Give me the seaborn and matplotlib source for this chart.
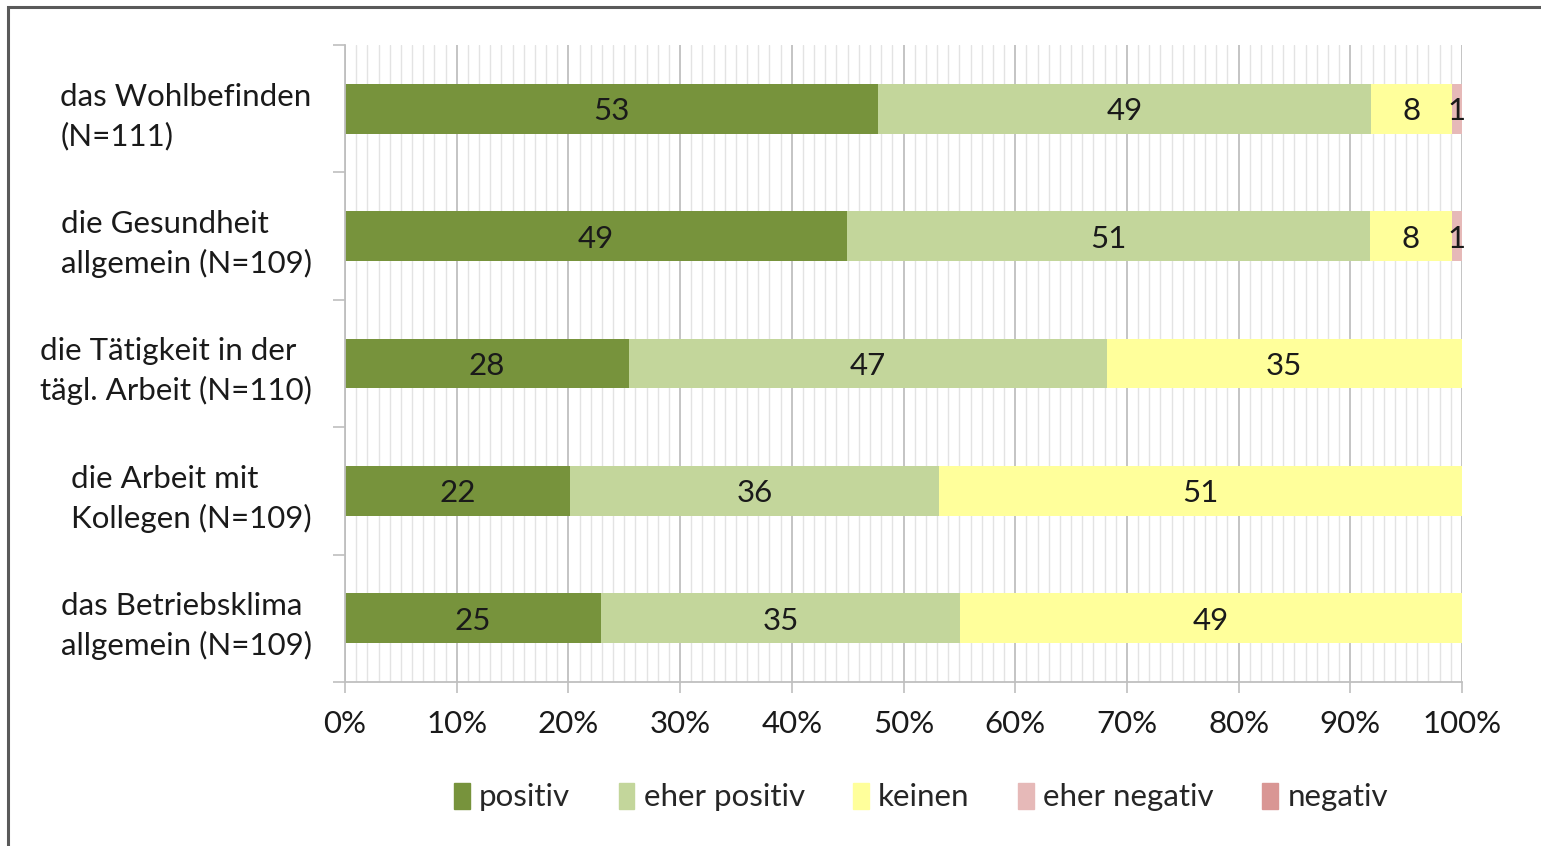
import matplotlib

matplotlib.use("Agg")
import matplotlib.pyplot as plt
import numpy as np
import pandas as pd
import seaborn as sns
from matplotlib.patches import Rectangle
from matplotlib.ticker import MultipleLocator, FuncFormatter

sns.set_theme(style="white")
plt.rcParams["font.family"] = ["Lato", "DejaVu Sans"]

# data (counts per answer category)
categories = [
    "das Wohlbefinden\n(N=111)",
    "die Gesundheit\nallgemein (N=109)",
    "die Tätigkeit in der\ntägl. Arbeit (N=110)",
    "die Arbeit mit\nKollegen (N=109)",
    "das Betriebsklima\nallgemein (N=109)",
]
series = ["positiv", "eher positiv", "keinen", "eher negativ", "negativ"]
positiv = [53, 49, 28, 22, 25]
eher_positiv = [49, 51, 47, 36, 35]
keinen = [8, 8, 35, 51, 49]
eher_negativ = [1, 1, 0, 0, 0]
negativ = [0, 0, 0, 0, 0]
colors = ["#77933C", "#C3D69B", "#FFFF9B", "#E6B9B8", "#D99694"]

counts = np.array([positiv, eher_positiv, keinen, eher_negativ, negativ], float)
pct = counts / counts.sum(axis=0) * 100
cum = np.cumsum(pct, axis=0)

FS = 22.5

fig = plt.figure(figsize=(15.41, 8.46), dpi=100)
ax = fig.add_axes([345 / 1541, 1 - 682 / 846, (1462 - 345) / 1541, (682 - 45) / 846])

# stacked bars: draw cumulative totals from the last series down
for i in reversed(range(len(series))):
    df = pd.DataFrame({"cat": categories, "val": cum[i]})
    sns.barplot(data=df, x="val", y="cat", color=colors[i], saturation=1,
                width=0.39, orient="h", ax=ax, linewidth=0, zorder=2)

# value labels
for i in range(len(series)):
    for j in range(len(categories)):
        if counts[i, j] > 0:
            ax.text(cum[i, j] - pct[i, j] / 2, j + 0.02, f"{int(counts[i, j])}",
                    ha="center", va="center", fontsize=FS, color="#1a1a1a", zorder=3)

ax.set_xlim(0, 100)
ax.set_ylim(4.5, -0.5)
ax.xaxis.set_major_locator(MultipleLocator(10))
ax.xaxis.set_minor_locator(MultipleLocator(1))
ax.xaxis.set_major_formatter(FuncFormatter(lambda v, _: f"{v:.0f}%"))
ax.grid(axis="x", which="major", color="#BFBFBF", lw=1.3, zorder=0)
ax.grid(axis="x", which="minor", color="#E3E3E3", lw=1.0, zorder=0)
ax.set_axisbelow(True)

ax.set_yticks(range(len(categories)))
ax.set_yticklabels(categories, ma="left", linespacing=1.45)
ax.set_yticks(np.arange(-0.5, 5, 1), minor=True)
ax.tick_params(axis="y", which="major", length=0, pad=24, labelsize=FS, labelcolor="#1a1a1a")
ax.tick_params(axis="y", which="minor", left=True, length=9, width=1.2, color="#BFBFBF")
ax.tick_params(axis="x", which="major", bottom=True, length=8, width=1.2, color="#BFBFBF",
               pad=12, labelsize=FS, labelcolor="#1a1a1a")
ax.tick_params(axis="x", which="minor", bottom=False)
ax.set_xlabel("")
ax.set_ylabel("")

for s in ["top", "right"]:
    ax.spines[s].set_visible(False)
for s in ["left", "bottom"]:
    ax.spines[s].set_color("#BFBFBF")
    ax.spines[s].set_linewidth(1.3)

handles = [Rectangle((0, 0), 1, 1, color=c) for c in colors]
fig.legend(handles, series, loc="center", bbox_to_anchor=(921 / 1541, 1 - 797 / 846),
           ncol=5, frameon=False, fontsize=FS, handlelength=0.5, handleheight=0.9,
           handletextpad=0.3, columnspacing=1.55)

# outer chart frame
fig.patches.append(Rectangle((8 / 1541, -0.1), 1.2, 1 - 7 / 846 + 0.1,
                             transform=fig.transFigure, fill=False,
                             edgecolor="#5a5a5a", lw=2.2))

fig.savefig("out.png", dpi=100)
